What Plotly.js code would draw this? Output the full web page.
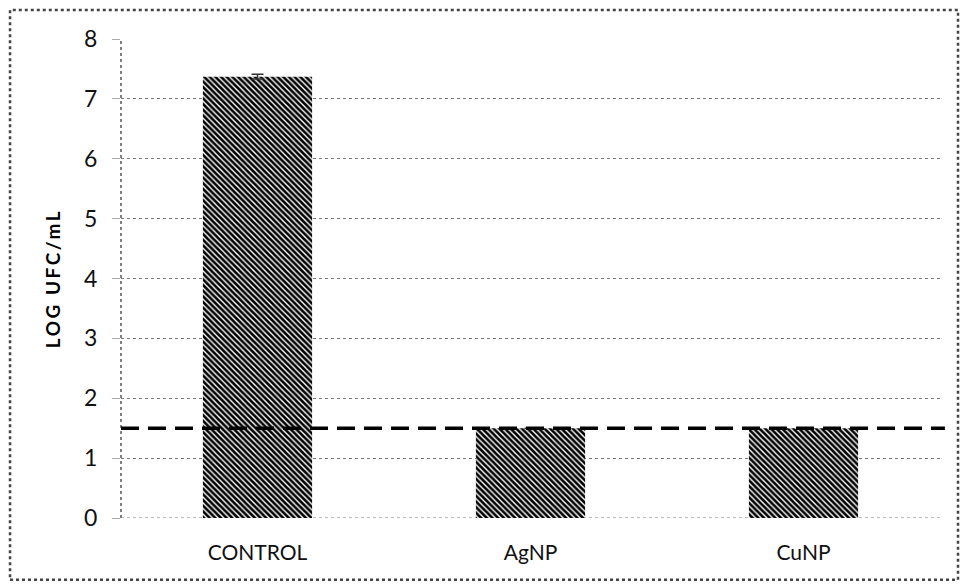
<!DOCTYPE html>
<html>
<head>
<meta charset="utf-8">
<script src="https://cdn.plot.ly/plotly-3.0.1.min.js"></script>
<style>
html,body{margin:0;padding:0;background:#fff;}
#chart{width:961px;height:586px;}
#chart .ytitle{letter-spacing:2.5px;}
</style>
</head>
<body>
<div id="chart"></div>
<script>
const categories = ["CONTROL", "AgNP", "CuNP"];
const values = [7.37, 1.5, 1.5];
const errors = [0.04, 0, 0];
const detectionLimit = 1.5;
const yTicks = [0, 1, 2, 3, 4, 5, 6, 7, 8];

const trace = {
  type: "bar",
  x: categories,
  y: values,
  marker: {
    color: "#000",
    line: {width: 0},
    pattern: {shape: "\\", bgcolor: "#fff", fgcolor: "#000", size: 4, solidity: 0.65}
  },
  error_y: {type: "data", array: errors, visible: true, color: "#333", thickness: 1.5, width: 6},
  hoverinfo: "skip"
};

const layout = {
  width: 961,
  height: 586,
  margin: {l: 121, r: 21, t: 39, b: 68},
  paper_bgcolor: "#fff",
  plot_bgcolor: "#fff",
  showlegend: false,
  bargap: 0.6,
  font: {family: "Lato, 'Open Sans', sans-serif", color: "#000"},
  xaxis: {
    type: "category",
    showgrid: false,
    zeroline: false,
    showline: false,
    ticks: "",
    tickfont: {size: 21, color: "#111"},
    ticklabelstandoff: 20
  },
  yaxis: {
    range: [0, 8],
    tickvals: yTicks,
    showgrid: true,
    gridcolor: "#777",
    griddash: "dot",
    gridwidth: 1,
    zeroline: false,
    showline: false,
    ticks: "outside",
    ticklen: 8,
    tickcolor: "#aaa",
    tickfont: {size: 23, color: "#111"},
    ticklabelstandoff: 10,
    title: {text: "<b>LOG UFC/mL</b>", font: {size: 19, color: "#000"}, standoff: 18}
  },
  shapes: [
    {type: "line", xref: "paper", yref: "y", x0: 0, x1: 1, y0: yTicks[0], y1: yTicks[0],
     line: {color: "#777", width: 1, dash: "dot"}, layer: "below"},
    {type: "line", xref: "paper", yref: "paper", x0: 0, x1: 0, y0: 0, y1: 1,
     line: {color: "#555", width: 1.5, dash: "dot"}},
    {type: "line", xref: "paper", yref: "y", x0: 0, x1: 1.006, y0: detectionLimit, y1: detectionLimit,
     line: {color: "#000", width: 3.5, dash: "18px,9px"}},
    {type: "rect", xref: "paper", yref: "paper", x0: -0.1355, x1: 1.022, y0: -0.129, y1: 1.0605,
     line: {color: "#444", width: 2.5, dash: "dot"}, fillcolor: "rgba(0,0,0,0)", layer: "below"}
  ]
};

Plotly.newPlot("chart", [trace], layout, {staticPlot: true, displayModeBar: false});
</script>
</body>
</html>
